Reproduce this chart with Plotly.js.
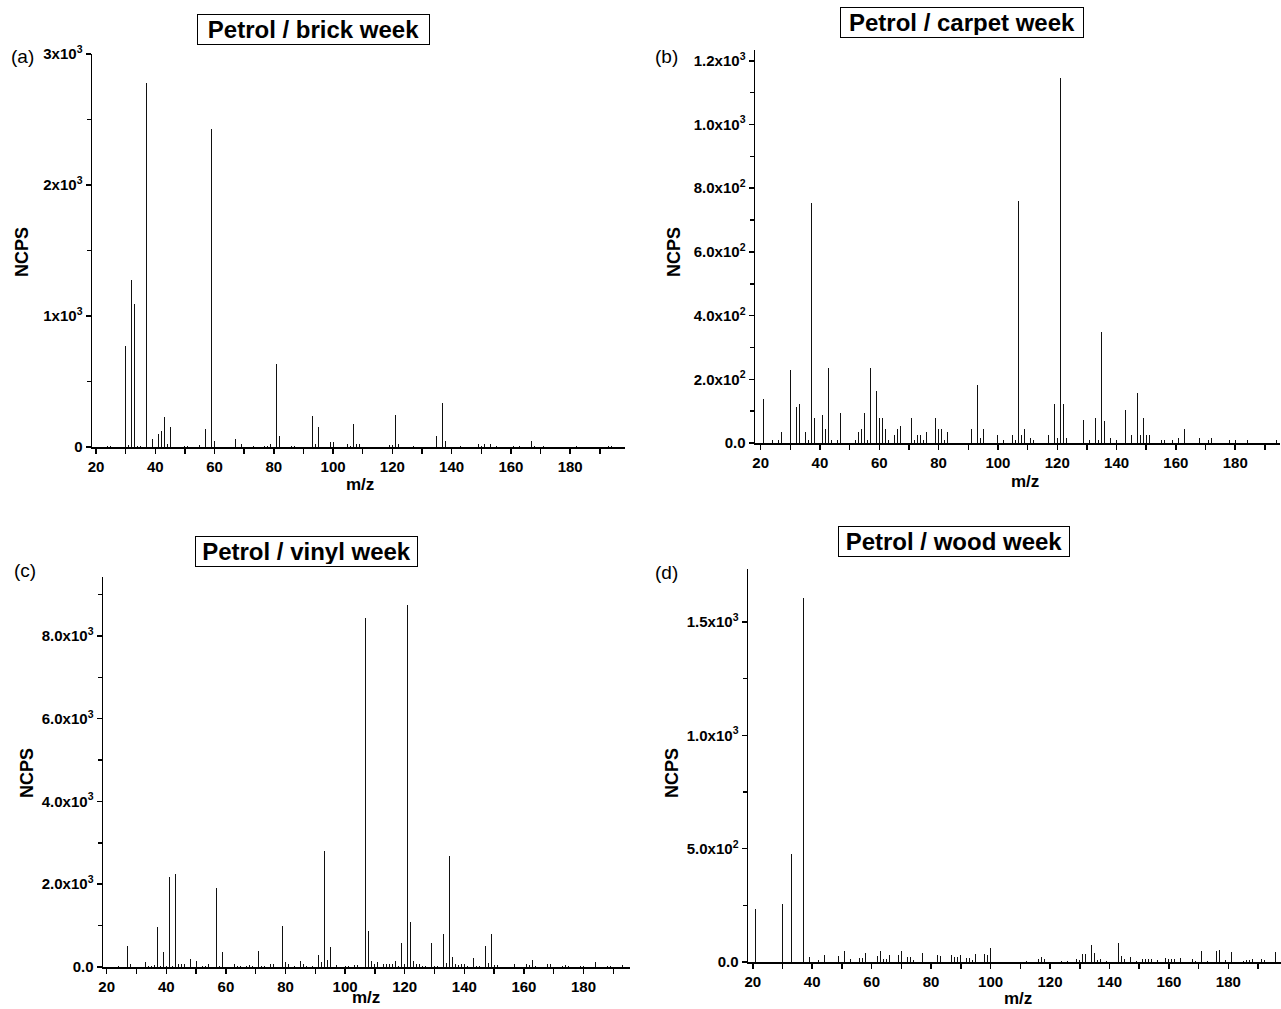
<!DOCTYPE html>
<html>
<head>
<meta charset="utf-8">
<script src="https://cdn.plot.ly/plotly-3.0.1.min.js"></script>
<style>html,body{margin:0;padding:0;background:#fff;}#chart{width:1281px;height:1009px;}</style>
</head>
<body>
<div id="chart"></div>
<script>
// ---- Data (m/z, NCPS) ----
const brickMz  = [20,24,25,30,31,32,33,34,35,37,39,41,42,43,44,45,47,50,51,55,57,59,60,67,69,73,75,77,78,79,81,82,86,87,93,94,95,99,100,105,106,107,108,109,119,120,121,122,127,130,135,137,138,143,149,150,151,153,155,161,163,167,168,171,182,185,193,194];
const brickVal = [170,4,4,768,13,1272,1089,6,5,2776,58,99,125,232,25,150,402,6,8,15,140,2430,48,58,25,6,46,6,6,20,631,84,8,8,234,25,150,36,36,20,10,178,20,23,15,15,244,20,5,6,81,333,46,6,25,8,20,20,8,5,5,43,8,8,6,5,6,6];

const carpetMz  = [21,24,26,27,30,32,33,35,36,37,38,39,41,42,43,44,46,47,52,53,54,55,56,57,59,60,61,62,63,65,66,67,69,71,72,73,74,75,76,79,80,81,82,83,91,93,94,95,98,100,102,105,106,107,108,109,111,112,117,119,120,121,122,123,128,129,131,133,134,135,136,138,140,143,145,147,148,149,150,151,155,156,159,161,163,168,171,172,178,180,184,194];
const carpetVal = [138,8,8,34,230,113,121,34,8,753,79,18,87,44,235,8,8,94,8,35,44,95,8,234,163,79,79,43,8,26,43,52,95,79,8,26,26,8,35,79,44,44,8,35,44,181,17,44,8,26,8,26,8,760,26,44,17,8,26,122,17,1145,122,17,8,71,8,78,8,347,68,17,8,104,26,156,26,78,26,26,8,8,8,17,44,17,8,17,8,8,8,8];

const vinylMz  = [24,27,28,33,34,35,36,37,38,39,40,41,42,43,44,45,46,48,50,52,53,54,55,56,57,58,59,63,64,65,67,68,69,71,72,73,75,76,79,80,81,83,85,86,87,89,91,92,93,94,95,97,100,101,103,104,105,106,107,108,109,110,111,113,114,115,116,117,118,119,120,121,122,123,124,125,126,127,129,130,131,133,134,135,136,137,138,139,140,141,143,144,145,147,148,149,150,151,155,156,157,161,162,163,164,168,169,173,174,175,179,180,184,188,189,193];
const vinylVal = [24,507,64,129,32,32,48,958,32,354,32,2165,32,2245,64,72,72,201,145,24,32,72,225,64,1907,32,362,72,32,32,32,48,32,378,32,24,80,64,990,113,80,32,145,72,32,24,290,121,2800,177,483,40,24,24,48,48,241,153,8430,861,145,64,113,72,72,72,72,145,32,571,80,8750,1087,145,64,80,32,32,571,32,24,805,97,2688,241,72,40,72,72,24,217,32,32,507,97,789,48,40,64,72,72,72,48,169,32,64,64,32,48,24,32,32,121,32,32,40];

const woodMz  = [21,30,33,37,39,42,44,47,48,49,51,53,56,57,58,62,63,64,65,66,69,70,72,73,74,77,82,83,85,87,88,89,90,92,93,94,95,98,99,100,112,116,117,118,124,126,129,130,131,132,134,135,136,137,139,143,144,145,147,149,151,152,153,154,156,158,159,160,161,162,164,168,169,171,173,176,177,179,181,185,186,187,188,191,192,195,196];
const woodVal = [232,257,477,1604,21,9,31,31,31,26,48,12,16,16,40,26,48,12,12,29,29,50,21,21,9,41,29,26,22,32,21,21,32,16,16,7,35,35,29,60,4,15,22,15,6,6,15,7,37,37,75,41,9,12,4,82,25,15,21,5,15,15,12,15,8,15,19,12,12,12,18,12,5,48,4,47,51,9,44,5,8,8,13,12,8,21,44];

const xTicks = [20,40,60,80,100,120,140,160,180];
const yTicksA = [0,1000,2000,3000];
const yTextA  = ['0','1x10<sup>3</sup>','2x10<sup>3</sup>','3x10<sup>3</sup>'];
const yTicksB = [0,200,400,600,800,1000,1200];
const yTextB  = ['0.0','2.0x10<sup>2</sup>','4.0x10<sup>2</sup>','6.0x10<sup>2</sup>','8.0x10<sup>2</sup>','1.0x10<sup>3</sup>','1.2x10<sup>3</sup>'];
const yTicksC = [0,2000,4000,6000,8000];
const yTextC  = ['0.0','2.0x10<sup>3</sup>','4.0x10<sup>3</sup>','6.0x10<sup>3</sup>','8.0x10<sup>3</sup>'];
const yTicksD = [0,500,1000,1500];
const yTextD  = ['0.0','5.0x10<sup>2</sup>','1.0x10<sup>3</sup>','1.5x10<sup>3</sup>'];

const titles = ['Petrol / brick week','Petrol / carpet week','Petrol / vinyl week','Petrol / wood week'];
const panelLabels = ['(a)','(b)','(c)','(d)'];

// ---- Layout helpers ----
const W = 1281, H = 1009;
const px = x => x / W;
const py = y => 1 - y / H;
const FONT = 'Liberation Sans, Arial, sans-serif';

function xAxis(l, r, range, anchor) {
  return {
    domain: [px(l), px(r)], range: range, anchor: anchor,
    showline: true, linecolor: '#000', linewidth: 1.5, mirror: false,
    showgrid: false, zeroline: false,
    tickmode: 'array', tickvals: xTicks, ticks: 'outside', ticklen: 5, tickwidth: 1.5, tickcolor: '#000',
    minor: {dtick: 10, tick0: 0, ticks: 'outside', ticklen: 5, tickwidth: 1.5, tickcolor: '#000', showgrid: false},
    tickfont: {family: FONT, size: 15, color: '#000', weight: 'bold'}, fixedrange: true
  };
}
function yAxis(t, b, range, vals, text, minorStep, anchor) {
  return {
    domain: [py(b), py(t)], range: range, anchor: anchor,
    showline: true, linecolor: '#000', linewidth: 1.5,
    showgrid: false, zeroline: false,
    tickmode: 'array', tickvals: vals, ticktext: text, ticks: 'outside', ticklen: 5, tickwidth: 1.5, tickcolor: '#000',
    minor: {dtick: minorStep, tick0: 0, ticks: 'outside', ticklen: 4, tickwidth: 1.5, tickcolor: '#000', showgrid: false},
    tickfont: {family: FONT, size: 15, color: '#000', weight: 'bold'}, fixedrange: true
  };
}

function bars(x, y, xa, ya) {
  return {type: 'bar', x: x, y: y, xaxis: xa, yaxis: ya, width: 0.32,
          marker: {color: '#111', line: {width: 0}}, hoverinfo: 'x+y', showlegend: false};
}

const data = [
  bars(brickMz, brickVal, 'x', 'y'),
  bars(carpetMz, carpetVal, 'x2', 'y2'),
  bars(vinylMz, vinylVal, 'x3', 'y3'),
  bars(woodMz, woodVal, 'x4', 'y4')
];

const ann = [];
function textAnn(txt, x, y, opts) {
  ann.push(Object.assign({text: txt, xref: 'paper', yref: 'paper', x: px(x), y: py(y),
    xanchor: 'center', yanchor: 'middle', showarrow: false,
    font: {family: FONT, size: 18, color: '#000', weight: 'bold'}}, opts || {}));
}
// titles with boxes: [centerX, centerY, boxWidth]
const titlePos = [[313, 29, 233], [962, 22, 244], [306, 551, 223], [954, 541, 232]];
titles.forEach((t, i) => textAnn(t, titlePos[i][0], titlePos[i][1], {
  font: {family: FONT, size: 24, color: '#000', weight: 'bold'},
  width: titlePos[i][2] - 6, height: 25, align: 'center',
  bordercolor: '#000', borderwidth: 1, borderpad: 2, bgcolor: '#fff'}));
// panel labels
const labPos = [[22, 57], [666, 57], [25, 570], [666, 572]];
panelLabels.forEach((t, i) => textAnn(t, labPos[i][0], labPos[i][1], {
  font: {family: FONT, size: 19, color: '#000'}}));
// y titles
const yTitPos = [[22, 252], [674, 252], [27, 773], [672, 773]];
yTitPos.forEach(p => textAnn('NCPS', p[0], p[1], {textangle: -90}));
// x titles
const mzFont = {family: FONT, size: 17, color: '#000', weight: 'bold'};
textAnn('m/z', 360, 484, {font: mzFont});
textAnn('m/z', 1025, 481, {font: mzFont});
textAnn('m/z', 366, 1009, {font: mzFont, yanchor: 'bottom'});
textAnn('m/z', 1018, 998, {font: mzFont});

const layout = {
  width: W, height: H, margin: {l: 0, r: 0, t: 0, b: 0},
  paper_bgcolor: '#fff', plot_bgcolor: 'rgba(0,0,0,0)',
  showlegend: false, bargap: 0,
  xaxis:  xAxis(92, 625, [18.65, 198.5], 'y'),
  yaxis:  yAxis(54, 447, [0, 3000], yTicksA, yTextA, 500, 'x'),
  xaxis2: xAxis(755, 1280, [18.1, 195.1], 'y2'),
  yaxis2: yAxis(50, 443, [0, 1234], yTicksB, yTextB, 100, 'x2'),
  xaxis3: xAxis(103, 630, [18.76, 195.6], 'y3'),
  yaxis3: yAxis(577, 967, [0, 9425], yTicksC, yTextC, 1000, 'x3'),
  xaxis4: xAxis(748, 1281, [18.4, 197.7], 'y4'),
  yaxis4: yAxis(569, 962, [0, 1734], yTicksD, yTextD, 250, 'x4'),
  annotations: ann
};

Plotly.newPlot('chart', data, layout, {staticPlot: true, displayModeBar: false});
</script>
</body>
</html>
